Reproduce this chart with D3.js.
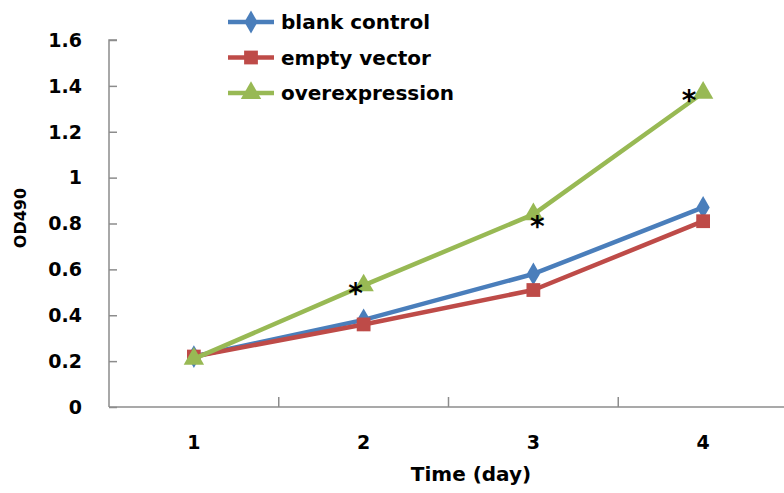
<!DOCTYPE html>
<html>
<head>
<meta charset="utf-8">
<script src="https://cdn.jsdelivr.net/npm/d3@7"></script>
<style>
  body { margin: 0; background: #fff; }
  text { font-family: "DejaVu Sans", sans-serif; font-weight: bold; fill: #000; }
</style>
</head>
<body>
<div id="chart"></div>
<script>
var days = ["1", "2", "3", "4"];
var seriesNames = ["blank control", "empty vector", "overexpression"];
var blankControl = [0.22, 0.38, 0.58, 0.87];
var emptyVector = [0.22, 0.36, 0.51, 0.81];
var overexpression = [0.21, 0.53, 0.84, 1.37];
var yTicks = [0, 0.2, 0.4, 0.6, 0.8, 1, 1.2, 1.4, 1.6];
var starDays = ["2", "3", "4"];

var colors = ["#4a7ebb", "#be4b48", "#98b954"];
var shapes = [d3.symbolDiamond, d3.symbolSquare, d3.symbolTriangle];
var sizes = [150, 190, 180];

var width = 784, height = 493;
var svg = d3.select("#chart").append("svg")
	.attr("width", width)
	.attr("height", height);

var x = d3.scaleBand().domain(days).range([109, 788]);
var y = d3.scaleLinear().domain([0, 1.6]).range([407, 40]);

// axes
var yAxis = svg.append("g")
	.attr("transform", "translate(109,0)")
	.call(d3.axisRight(y).tickValues(yTicks).tickSize(8).tickFormat(d3.format("")));
yAxis.selectAll("text").remove();
yAxis.selectAll("line, path").attr("stroke", "#8c8c8c").attr("stroke-width", 1.5);
yAxis.select("path").attr("d", "M8,40H0V407");

svg.append("g").selectAll("text").data(yTicks).enter().append("text")
	.attr("x", 82)
	.attr("y", function (d) { return y(d); })
	.attr("dy", "0.36em")
	.attr("text-anchor", "end")
	.style("font-size", "19px")
	.text(function (d) { return d3.format("")(d); });

var xAxis = svg.append("g")
	.attr("transform", "translate(0,407)");
xAxis.append("line")
	.attr("x1", 109).attr("x2", 788)
	.attr("stroke", "#8c8c8c").attr("stroke-width", 1.5);
xAxis.selectAll(".tk").data(days.slice(1)).enter().append("line")
	.attr("class", "tk")
	.attr("x1", function (d) { return x(d); })
	.attr("x2", function (d) { return x(d); })
	.attr("y1", 0).attr("y2", -10)
	.attr("stroke", "#8c8c8c").attr("stroke-width", 1.5);
xAxis.selectAll("text").data(days).enter().append("text")
	.attr("x", function (d) { return x(d) + x.bandwidth() / 2; })
	.attr("y", 35)
	.attr("dy", "0.36em")
	.attr("text-anchor", "middle")
	.style("font-size", "19px")
	.text(function (d) { return d; });

svg.append("text")
	.attr("x", 471).attr("y", 474)
	.attr("dy", "0.36em")
	.attr("text-anchor", "middle")
	.style("font-size", "20px")
	.text("Time (day)");

svg.append("text")
	.attr("transform", "translate(20,218) rotate(-90)")
	.attr("dy", "0.36em")
	.attr("text-anchor", "middle")
	.style("font-size", "16px")
	.text("OD490");

// series
var cx = function (d, i) { return x(days[i]) + x.bandwidth() / 2; };
var line = d3.line().x(cx).y(function (d) { return y(d); });
var allSeries = [blankControl, emptyVector, overexpression];

allSeries.forEach(function (vals, s) {
	svg.append("path")
		.datum(vals)
		.attr("d", line)
		.attr("fill", "none")
		.attr("stroke", colors[s])
		.attr("stroke-width", 4.5)
		.attr("stroke-linejoin", "round");
	svg.append("g").selectAll("path").data(vals).enter().append("path")
		.attr("d", d3.symbol().type(shapes[s]).size(sizes[s]))
		.attr("transform", function (d, i) { return "translate(" + cx(d, i) + "," + y(d) + ")"; })
		.attr("fill", colors[s]);
});

// significance marks
var starOffsets = [[-8, 18], [4, 22], [-14, 17]];
svg.append("g").selectAll("text").data(starDays).enter().append("text")
	.attr("x", function (d, i) { return x(d) + x.bandwidth() / 2 + starOffsets[i][0]; })
	.attr("y", function (d, i) { return y(overexpression[days.indexOf(d)]) + starOffsets[i][1]; })
	.attr("text-anchor", "middle")
	.style("font-size", "28px")
	.text("*");

// legend
var legend = svg.append("g");
seriesNames.forEach(function (name, i) {
	var ly = 22 + i * 35.5;
	legend.append("line")
		.attr("x1", 228).attr("x2", 274)
		.attr("y1", ly).attr("y2", ly)
		.attr("stroke", colors[i]).attr("stroke-width", 4.5);
	legend.append("path")
		.attr("d", d3.symbol().type(shapes[i]).size(sizes[i]))
		.attr("transform", "translate(251," + ly + ")")
		.attr("fill", colors[i]);
	legend.append("text")
		.attr("x", 281).attr("y", ly)
		.attr("dy", "0.36em")
		.style("font-size", "20px")
		.text(name);
});
</script>
</body>
</html>
